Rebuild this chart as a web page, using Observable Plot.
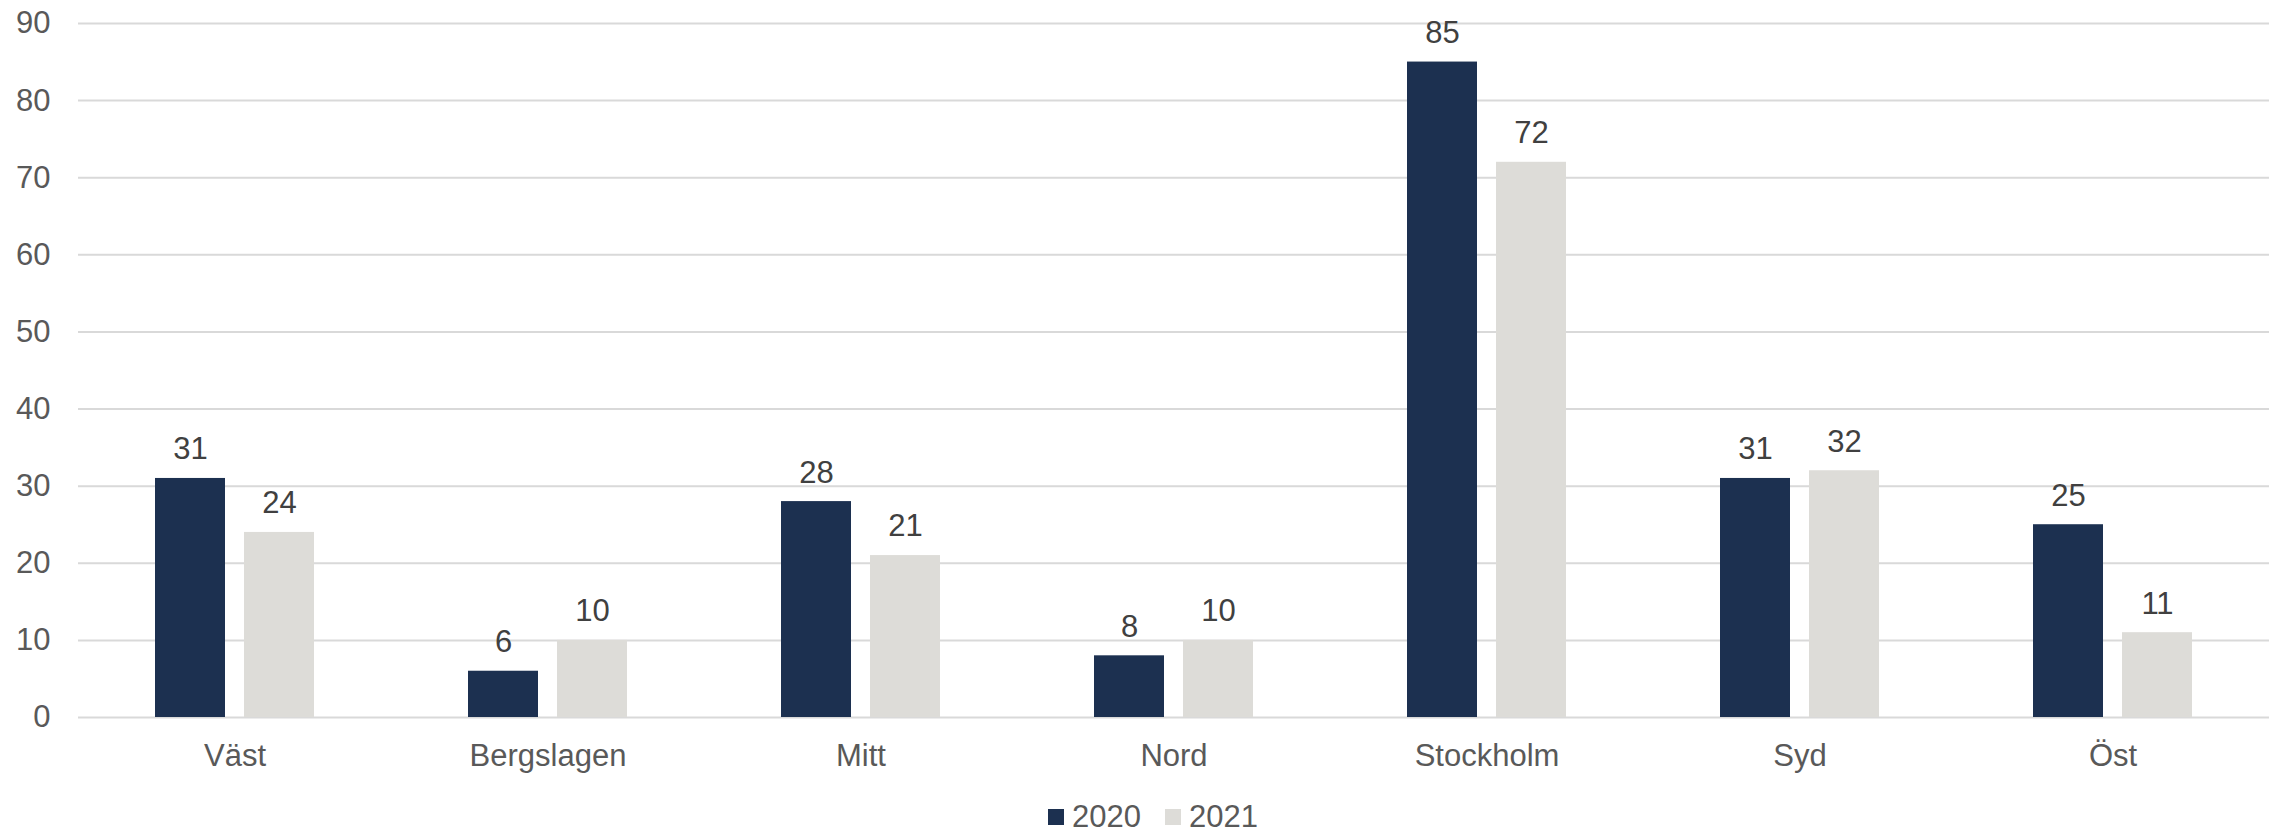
<!DOCTYPE html>
<html>
<head>
<meta charset="utf-8">
<script src="https://cdn.jsdelivr.net/npm/d3@7"></script>
<script src="https://cdn.jsdelivr.net/npm/@observablehq/plot@0.6"></script>
<style>
  html, body { margin: 0; padding: 0; background: #fff; }
  #wrap { position: relative; width: 2277px; height: 832px; font-family: "Liberation Sans", Arial, sans-serif; }
  #legend { position: absolute; left: 1048px; top: 799px; display: flex; align-items: center; font-size: 31px; color: #595959; }
  .sw { width: 16px; height: 16px; display: inline-block; margin-right: 8px; }
  .item { display: flex; align-items: center; margin-right: 24px; }
</style>
</head>
<body>
<div id="wrap">
  <div id="chart"></div>
  <div id="legend"></div>
</div>
<script>
const categories = ["Väst", "Bergslagen", "Mitt", "Nord", "Stockholm", "Syd", "Öst"];
const years = ["2020", "2021"];
const values2020 = [31, 6, 28, 8, 85, 31, 25];
const values2021 = [24, 10, 21, 10, 72, 32, 11];
const yTicks = [0, 10, 20, 30, 40, 50, 60, 70, 80, 90];
const colors = ["#1c3050", "#dddcd8"];

const data = categories.flatMap((c, i) => [
  {region: c, year: years[0], value: values2020[i]},
  {region: c, year: years[1], value: values2021[i]}
]);

const chart = Plot.plot({
  width: 2277,
  height: 795,
  marginLeft: 78,
  marginRight: 8,
  marginTop: 23,
  marginBottom: 78,
  style: {fontFamily: "'Liberation Sans', Arial, sans-serif", fontSize: "31px", color: "#595959", background: "white", overflow: "visible"},
  fx: {domain: categories, padding: 0, label: null},
  x: {domain: years, paddingInner: 0.2135, paddingOuter: 0.865, axis: null},
  y: {domain: [0, 90], label: null},
  color: {domain: years, range: colors},
  marks: [
    Plot.gridY(yTicks, {stroke: "#d9d9d9", strokeOpacity: 1, strokeWidth: 2}),
    Plot.axisY(yTicks, {tickSize: 0, tickPadding: 28, label: null, fontSize: 31, fill: "#595959"}),
    Plot.barY(data, {fx: "region", x: "year", y: "value", fill: "year"}),
    Plot.text(data, {fx: "region", x: "year", y: "value", text: d => String(d.value), dy: -29, fill: "#404040", fontSize: 31}),
    Plot.axisFx({anchor: "bottom", tickSize: 0, tickPadding: 26, label: null, fontSize: 31, fill: "#595959"})
  ]
});
document.getElementById("chart").appendChild(chart);

const legend = document.getElementById("legend");
years.forEach((y, i) => {
  const item = document.createElement("div");
  item.className = "item";
  const sw = document.createElement("span");
  sw.className = "sw";
  sw.style.background = colors[i];
  const t = document.createElement("span");
  t.textContent = y;
  item.appendChild(sw);
  item.appendChild(t);
  legend.appendChild(item);
});
</script>
</body>
</html>
